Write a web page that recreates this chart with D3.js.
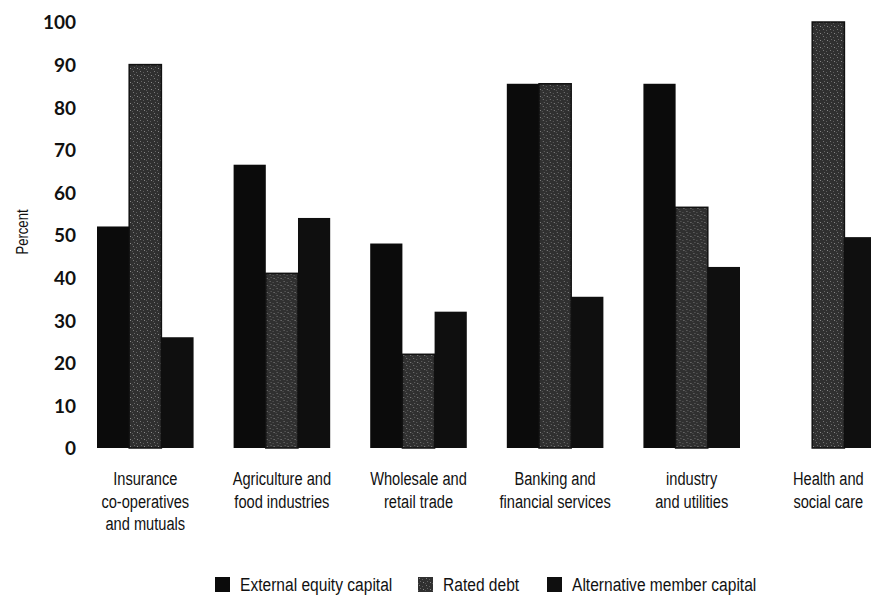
<!DOCTYPE html>
<html>
<head>
<meta charset="utf-8">
<script src="https://cdn.jsdelivr.net/npm/d3@7"></script>
<style>
  body { margin: 0; background: #fff; }
  svg { display: block; }
</style>
</head>
<body>
<div id="chart"></div>
<script>
// chart data
const categories = [
  "Insurance co-operatives and mutuals",
  "Agriculture and food industries",
  "Wholesale and retail trade",
  "Banking and financial services",
  "industry and utilities",
  "Health and social care"
];
const categoryLines = [
  ["Insurance", "co-operatives", "and mutuals"],
  ["Agriculture and", "food industries"],
  ["Wholesale and", "retail trade"],
  ["Banking and", "financial services"],
  ["industry", "and utilities"],
  ["Health and", "social care"]
];
const seriesNames = ["External equity capital", "Rated debt", "Alternative member capital"];
const externalEquity = [52, 66.5, 48, 85.5, 85.5, 0];
const ratedDebt = [90, 41, 22, 85.5, 56.5, 100];
const altMemberCapital = [26, 54, 32, 35.5, 42.5, 49.5];
const yTicks = [0, 10, 20, 30, 40, 50, 60, 70, 80, 90, 100];

const W = 871, H = 602;
// no condensed face installed, so squeeze a normal one horizontally
const textFont = "'Liberation Sans', Arial, sans-serif";
const squeeze = 0.77;

const svg = d3.select("#chart").append("svg")
  .attr("width", W)
  .attr("height", H);

// speckled texture for rated debt
const defs = svg.append("defs");
const pat = defs.append("pattern")
  .attr("id", "speckle")
  .attr("patternUnits", "userSpaceOnUse")
  .attr("width", 7)
  .attr("height", 7);
pat.append("rect").attr("width", 7).attr("height", 7).attr("fill", "#303030");
[[1, 1, "#7a7a7a"], [4, 2, "#5c5c5c"], [2, 4, "#666"], [5, 5, "#8a8a8a"], [0, 6, "#555"]]
  .forEach(([px, py, c]) => {
    pat.append("rect").attr("x", px).attr("y", py).attr("width", 1).attr("height", 1).attr("fill", c);
  });

const data = categories.map((c, i) => ({
  cat: c,
  values: [externalEquity[i], ratedDebt[i], altMemberCapital[i]]
}));

// scales
const y = d3.scaleLinear().domain([0, 100]).range([448, 22]);

const x0 = d3.scaleBand()
  .domain(categories)
  .range([97, 876.6])
  .paddingInner(0.293)
  .paddingOuter(0);

const x1 = d3.scaleBand()
  .domain(seriesNames)
  .range([0, x0.bandwidth()])
  .padding(0);

const fills = {
  "External equity capital": "#0b0b0b",
  "Rated debt": "url(#speckle)",
  "Alternative member capital": "#0f0f0f"
};

// y axis labels only
const yAxis = svg.append("g")
  .attr("transform", "translate(78,0)")
  .call(d3.axisLeft(y).tickValues(yTicks).tickSize(0).tickPadding(2));
yAxis.select(".domain").remove();
yAxis.selectAll("text")
  .attr("font-family", "Lato, 'Open Sans', sans-serif")
  .attr("font-weight", 700)
  .attr("font-size", 19)
  .attr("fill", "#111")
  .attr("dy", "0.36em");

svg.append("text")
  .attr("transform", `translate(28,232) rotate(-90) scale(${squeeze},1)`)
  .attr("text-anchor", "middle")
  .attr("font-family", textFont)
  .attr("font-size", 17)
  .attr("fill", "#111")
  .text("Percent");

// bars
const groups = svg.append("g").selectAll("g")
  .data(data)
  .join("g")
  .attr("transform", d => `translate(${x0(d.cat)},0)`);

groups.selectAll("rect")
  .data(d => seriesNames.map((s, j) => ({ s: s, v: d.values[j] })))
  .join("rect")
  .filter(d => d.v > 0)
  .attr("x", d => x1(d.s))
  .attr("y", d => y(d.v))
  .attr("width", x1.bandwidth())
  .attr("height", d => y(0) - y(d.v))
  .attr("fill", d => fills[d.s])
  .attr("stroke", d => d.s === "Rated debt" ? "#111" : "none")
  .attr("stroke-width", 1.5);

// category labels, one text per line
const lineData = [];
categories.forEach((c, i) => {
  categoryLines[i].forEach((t, k) => lineData.push({ cat: c, text: t, k: k }));
});
svg.append("g").selectAll("text")
  .data(lineData)
  .join("text")
  .attr("transform", d => `translate(${x0(d.cat) + x0.bandwidth() / 2},${485 + d.k * 22.5}) scale(${squeeze},1)`)
  .attr("text-anchor", "middle")
  .attr("font-family", textFont)
  .attr("font-size", 19)
  .attr("fill", "#111")
  .text(d => d.text);

// legend
const legendX = [215, 418, 547];
const legend = svg.append("g").selectAll("g")
  .data(seriesNames)
  .join("g")
  .attr("transform", (d, i) => `translate(${legendX[i]},577)`);
legend.append("rect")
  .attr("width", 15)
  .attr("height", 15)
  .attr("fill", d => fills[d]);
legend.append("text")
  .attr("transform", "translate(25,14) scale(0.82,1)")
  .attr("font-family", textFont)
  .attr("font-size", 19)
  .attr("fill", "#111")
  .text(d => d);
</script>
</body>
</html>
